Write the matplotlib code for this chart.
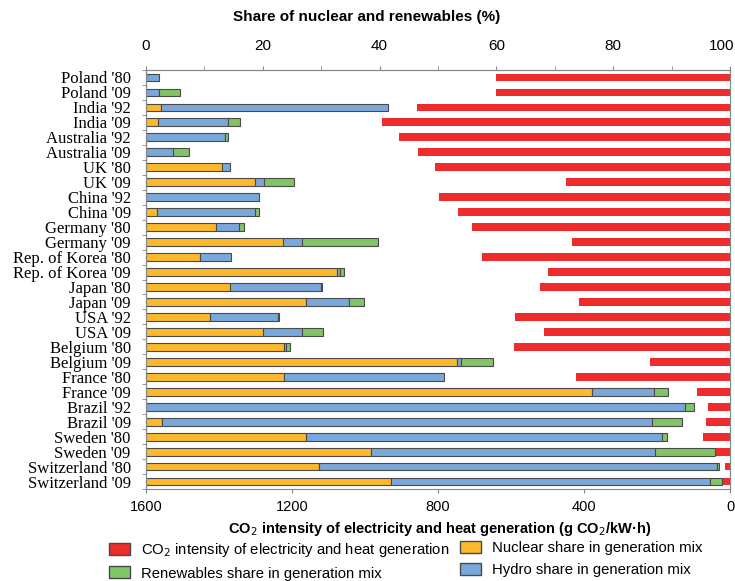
import matplotlib
matplotlib.use("Agg")
import matplotlib.pyplot as plt
from matplotlib import font_manager
import numpy as np
from matplotlib.patches import Patch
from matplotlib.transforms import ScaledTranslation

# country/year rows, top to bottom
labels = ["Poland '80", "Poland '09", "India '92", "India '09", "Australia '92",
          "Australia '09", "UK '80", "UK '09", "China '92", "China '09",
          "Germany '80", "Germany '09", "Rep. of Korea '80", "Rep. of Korea '09",
          "Japan '80", "Japan '09", "USA '92", "USA '09", "Belgium '80",
          "Belgium '09", "France '80", "France '09", "Brazil '92", "Brazil '09",
          "Sweden '80", "Sweden '09", "Switzerland '80", "Switzerland '09"]

# g CO2 / kWh
co2 = [642, 642, 858, 954, 906, 856, 807, 450, 796, 745, 706, 432, 679, 499,
       520, 415, 589, 510, 591, 219, 421, 90, 61, 65, 73, 40, 14, 22]

# generation mix shares (%)
nuclear = [0.0, 0.0, 2.5, 2.0, 0.0, 0.0, 13.0, 18.6, 0.0, 1.9, 12.0, 23.5, 9.3, 32.7,
           14.4, 27.4, 11.0, 20.0, 23.6, 53.3, 23.7, 76.3, 0.0, 2.8, 27.4, 38.6, 29.7, 42.0]
hydro = [2.3, 2.3, 38.9, 12.0, 13.5, 4.6, 1.4, 1.6, 19.3, 16.7, 4.0, 3.3, 5.3, 0.6,
         15.6, 7.4, 11.6, 6.7, 0.4, 0.6, 27.3, 10.7, 92.3, 83.8, 61.0, 48.6, 68.0, 54.6]
renew = [0.0, 3.6, 0.0, 2.1, 0.5, 2.7, 0.0, 5.2, 0.0, 0.7, 0.7, 12.9, 0.0, 0.6,
         0.2, 2.5, 0.2, 3.6, 0.7, 5.5, 0.0, 2.4, 1.5, 5.2, 0.8, 10.3, 0.4, 2.0]

RED, ORANGE, BLUE, GREEN = "#EE2C2C", "#FDB92B", "#7AA8DA", "#80C465"
EDGE = "#4a4a4a"


def pick(*names):
    for n in names:
        try:
            font_manager.findfont(n, fallback_to_default=False)
            return n
        except ValueError:
            pass
    return "DejaVu Sans"


SANS = pick("Liberation Sans", "Arial")
plt.rcParams["font.family"] = SANS

y = np.arange(len(labels))
nuclear, hydro, renew = map(np.array, (nuclear, hydro, renew))

fig = plt.figure(figsize=(7.35, 5.81), dpi=100)
ax = fig.add_axes([0.1986, 0.1583, 0.7946, 0.7212])

# CO2 intensity on the bottom axis, running right to left
ax.barh(y, co2, height=0.52, color=RED, linewidth=0)
ax.set_xlim(1600, 0)
ax.set_ylim(len(labels) - 0.5, -0.5)
ax.set_xticks([1600, 1200, 800, 400, 0])
ax.set_yticks(y)
ax.set_yticklabels(labels, family="Liberation Serif", fontsize=12)
ax.set_yticks(np.arange(len(labels) + 1) - 0.5, minor=True)
ax.tick_params(axis="y", which="major", length=0, pad=11)
ax.tick_params(axis="y", which="minor", length=3, color="#888888")
ax.tick_params(axis="x", length=3, color="#888888", labelsize=10.5, pad=5)
ax.set_xlabel("CO$_2$ intensity of electricity and heat generation (g CO$_2$/kW·h)",
              fontweight="bold", fontsize=10.5, labelpad=4, x=0.503)

# shares on the top axis, stacked left to right
ax2 = ax.twiny()
ax2.set_xlim(0, 100)
kw = dict(height=0.52, edgecolor=EDGE, linewidth=0.8)
ax2.barh(y, nuclear, color=ORANGE, **kw)
ax2.barh(y, hydro, left=nuclear, color=BLUE, **kw)
ax2.barh(y, renew, left=nuclear + hydro, color=GREEN, **kw)
# hide outlines of empty segments
for p in ax2.patches:
    if p.get_width() == 0:
        p.set_visible(False)
ax2.set_xticks([0, 20, 40, 60, 80, 100])
ax2.set_xticks(np.arange(0, 101, 10), minor=True)
ax2.tick_params(axis="x", which="both", length=3, color="#888888", labelsize=11, pad=9)
last = ax2.get_xticklabels()[-1]
last.set_transform(last.get_transform() + ScaledTranslation(-6 / 72, 0, fig.dpi_scale_trans))
ax2.set_xlabel("Share of nuclear and renewables (%)", fontweight="bold",
               fontsize=11, labelpad=13, x=0.377)

for a in (ax, ax2):
    for s in a.spines.values():
        s.set_color("#888888")
        s.set_linewidth(0.8)
ax2.spines["bottom"].set_visible(False)

# legend in two hand-placed columns
leg_kw = dict(loc="upper left", frameon=False, fontsize=10.7, borderpad=0,
              handlelength=1.4, handleheight=0.87, handletextpad=0.75, labelspacing=0.5,
              borderaxespad=0)
fig.legend([Patch(facecolor=RED, edgecolor=EDGE), Patch(facecolor=GREEN, edgecolor=EDGE)],
           ["CO$_2$ intensity of electricity and heat generation",
            "Renewables share in generation mix"],
           bbox_to_anchor=(109 / 735, 1 - 541 / 581), **leg_kw)
fig.legend([Patch(facecolor=ORANGE, edgecolor=EDGE), Patch(facecolor=BLUE, edgecolor=EDGE)],
           ["Nuclear share in generation mix", "Hydro share in generation mix"],
           bbox_to_anchor=(460 / 735, 1 - 541 / 581), **leg_kw)

fig.savefig("out.png", dpi=100, facecolor="white")
